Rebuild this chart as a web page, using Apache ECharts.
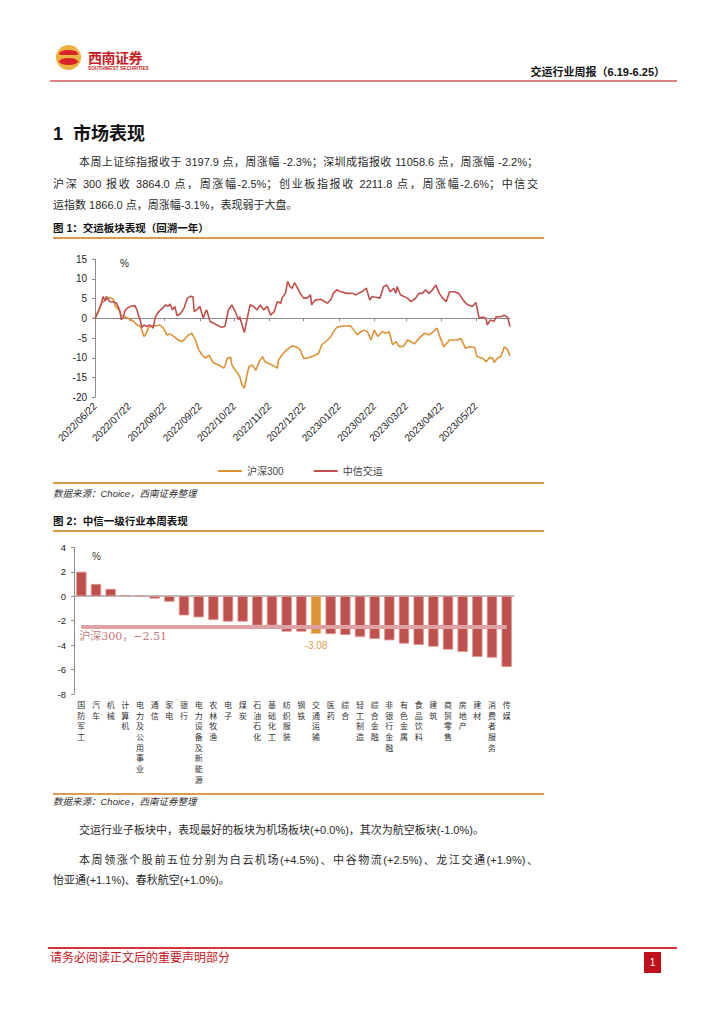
<!DOCTYPE html>
<html><head><meta charset="utf-8">
<script src="https://cdn.jsdelivr.net/npm/echarts/dist/echarts.min.js"></script>
<style>
html,body{margin:0;padding:0;background:#fff;}
body{width:724px;height:1024px;position:relative;overflow:hidden;font-family:"Liberation Sans","Noto Sans CJK SC",sans-serif;color:#222;}
.a{position:absolute;white-space:nowrap;}
.rule{position:absolute;left:53px;width:491px;height:1.5px;background:#d99a4e;}
.txt{font-size:11px;line-height:14px;color:#2a2a2a;}
.just{text-align:justify;text-align-last:justify;}
.src{font-size:9.5px;line-height:12px;font-style:italic;color:#333;}
.ftitle{font-size:10.5px;line-height:14px;font-weight:bold;color:#111;}
</style>
</head><body>
<!-- header -->
<div class="a" style="left:56px;top:45px;width:25px;height:25px;border-radius:50%;background:#eab340;overflow:hidden;">
  <div style="position:absolute;left:3px;top:5px;width:19px;height:7px;border-radius:50%;background:#d8232a;"></div>
  <div style="position:absolute;left:3px;top:13px;width:19px;height:7px;border-radius:50%;background:#d8232a;"></div>
  <div style="position:absolute;left:0px;top:10px;width:25px;height:3px;background:#eab340;"></div>
</div>
<div class="a" style="left:88px;top:50px;font-size:14px;line-height:16px;font-weight:bold;color:#c81d25;letter-spacing:-0.5px;">西南证券</div>
<div class="a" style="left:88px;top:66px;font-size:8px;line-height:8px;font-weight:bold;color:#c81d25;transform:scale(0.6);transform-origin:0 0;">SOUTHWEST SECURITIES</div>
<div class="a" style="right:59px;top:65px;font-size:11px;line-height:14px;font-weight:bold;color:#111;">交运行业周报（6.19-6.25）</div>
<div class="a" style="left:50px;top:80px;width:627px;height:2px;background:#d98585;"></div>

<!-- section -->
<div class="a" style="left:53px;top:122px;font-size:18px;line-height:24px;font-weight:bold;color:#111;">1&nbsp; 市场表现</div>
<div class="a txt just" style="left:79px;top:155px;width:459px;">本周上证综指报收于 3197.9 点，周涨幅 -2.3%；深圳成指报收 11058.6 点，周涨幅 -2.2%；</div>
<div class="a txt just" style="left:53px;top:177px;width:485px;">沪深 300 报收 3864.0 点，周涨幅-2.5%；创业板指报收 2211.8 点，周涨幅-2.6%；中信交</div>
<div class="a txt" style="left:53px;top:198px;">运指数 1866.0 点，周涨幅-3.1%，表现弱于大盘。</div>

<div class="a ftitle" style="left:53px;top:221px;">图 1：交运板块表现（回溯一年）</div>
<div class="rule" style="top:237px;"></div>
<div id="c1" class="a" style="left:40px;top:240px;width:520px;height:240px;"></div>
<div class="rule" style="top:482px;"></div>
<div class="a src" style="left:53px;top:488px;">数据来源：Choice，西南证券整理</div>

<div class="a ftitle" style="left:53px;top:514px;">图 2：中信一级行业本周表现</div>
<div class="rule" style="top:530px;"></div>
<div id="c2" class="a" style="left:40px;top:533px;width:520px;height:258px;"></div>
<div class="rule" style="top:793px;"></div>
<div class="a src" style="left:53px;top:796px;">数据来源：Choice，西南证券整理</div>

<div class="a txt" style="left:79px;top:823px;">交运行业子板块中，表现最好的板块为机场板块(+0.0%)，其次为航空板块(-1.0%)。</div>
<div class="a txt just" style="left:79px;top:853px;width:459px;">本周领涨个股前五位分别为白云机场(+4.5%)、中谷物流(+2.5%)、龙江交通(+1.9%)、</div>
<div class="a txt" style="left:53px;top:873px;">怡亚通(+1.1%)、春秋航空(+1.0%)。</div>

<!-- footer -->
<div class="a" style="left:48px;top:947px;width:629px;height:1.5px;background:#d8353a;"></div>
<div class="a" style="left:50px;top:950px;font-size:12px;line-height:16px;color:#c8161d;">请务必阅读正文后的重要声明部分</div>
<div class="a" style="left:644px;top:952px;width:17px;height:21px;background:#c0101c;color:#fff;font-size:10px;line-height:21px;text-align:center;">1</div>

<script>
// ---------- Chart 1 data (x = days since 2022/06/22, value = cumulative %) ----------
const startDate = [2022, 6, 22];
const totalDays = 365;
const seriesNames = ['沪深300', '中信交运'];
const hs300Days = [0,6,9,13,16,18,21,23,26,29,34,37,40,41,43,45,47,50,54,57,60,63,66,69,73,76,79,82,85,88,91,94,97,100,103,105,110,113,114,116,119,120,123,126,127,129,131,133,135,138,141,144,147,149,152,157,160,161,164,168,173,177,180,183,186,192,196,199,204,207,209,212,216,224,227,230,233,236,239,242,245,248,252,255,258,261,264,267,271,274,277,280,284,289,293,296,300,303,306,311,318,321,325,328,333,335,340,343,346,349,350,353,356,359,362,364];
const hs300Vals = [0,3.8,4.6,5.3,4.8,3.0,2.1,0.8,0.4,0,-0.8,-1.7,-2.1,-3.0,-4.6,-3.8,-2.3,-1.9,-1.9,-1.7,-2.5,-4.2,-4.0,-4.6,-5.5,-5.9,-5.2,-4.2,-3.8,-5.5,-8.0,-9.3,-10.1,-9.3,-11.0,-11.4,-12.1,-12.6,-12.1,-10.1,-9.9,-11.8,-13.1,-14.3,-14.8,-16.9,-17.7,-14.8,-12.2,-11.8,-13.2,-11.0,-9.7,-11.0,-11.4,-12.1,-12.6,-10.5,-9.3,-8.0,-7.0,-7.3,-8.0,-10.1,-10.1,-9.5,-8.9,-6.7,-5.5,-4.6,-3.5,-2.3,-2.0,-1.9,-3.0,-4.2,-3.4,-3.0,-3.4,-5.5,-3.0,-4.6,-3.4,-3.8,-3.4,-6.7,-5.9,-7.2,-7.0,-5.5,-5.9,-6.5,-5.1,-3.8,-4.2,-3.6,-2.5,-5.1,-7.2,-5.5,-5.5,-5.1,-7.6,-7.2,-7.4,-9.7,-10.1,-11.0,-9.9,-10.1,-11.2,-10.1,-9.7,-7.2,-8.0,-9.5];
const citicDays = [0,3,6,7,9,10,13,16,19,22,23,25,26,28,31,35,37,38,40,41,43,45,48,51,53,56,59,62,64,66,68,70,72,75,78,81,84,86,87,89,92,95,97,98,100,101,107,111,114,117,120,123,126,127,129,131,133,136,139,142,145,148,151,154,157,160,163,164,167,169,171,173,175,177,180,183,186,189,190,193,198,204,207,209,212,215,221,226,229,231,234,238,241,243,246,250,253,256,259,262,264,265,268,271,274,277,281,284,287,290,293,296,299,302,305,308,311,315,319,324,327,331,334,337,340,343,344,347,350,352,356,359,362,364];
const citicVals = [0,1.7,4.2,5.5,4.4,5.5,4.2,4.2,3.8,1.7,-0.4,0.4,1.7,2.5,3.0,3.2,2.0,0.8,-0.8,-2.3,-1.7,-2.1,-1.7,-2.5,0.4,1.7,2.5,3.4,3.0,3.6,2.1,3.0,0.6,1.2,2.5,5.1,5.6,5.4,1.7,2.1,3.0,0,1.7,2.1,0,-0.8,-1.7,-2.3,-2.0,2.1,3.4,1.7,-0.4,0.4,-1.7,-3.6,-0.8,3.4,3.0,2.1,3.4,2.1,3.0,0.8,1.6,4.2,3.8,5.1,6.3,9.3,8.0,7.6,9.0,8.0,6.3,5.1,5.1,5.9,3.4,4.6,4.8,3.8,4.8,6.3,7.2,6.8,6.3,6.3,5.9,6.3,6.7,7.6,4.6,5.5,5.3,5.1,8.0,8.4,6.7,7.6,6.3,8.0,5.9,5.5,5.1,4.2,5.0,6.3,6.3,7.2,6.3,7.2,8.4,6.3,5.1,4.2,6.7,6.7,6.3,4.2,3.4,3.0,4.0,0,0.3,0,-1.7,-0.4,-0.8,0.4,0.4,0.8,0.2,-2.1];

// ---------- Chart 2 data ----------
const industries = ['国防军工','汽车','机械','计算机','电力及公用事业','通信','家电','银行','电力设备及新能源','农林牧渔','电子','煤炭','石油石化','基础化工','纺织服装','钢铁','交通运输','医药','综合','轻工制造','综合金融','非银行金融','有色金属','食品饮料','建筑','商贸零售','房地产','建材','消费者服务','传媒'];
const weeklyChange = [2.0,1.0,0.6,0.1,-0.02,-0.2,-0.45,-1.57,-1.73,-1.95,-2.08,-2.08,-2.4,-2.4,-2.9,-2.9,-3.08,-3.1,-3.17,-3.34,-3.5,-3.61,-3.88,-3.99,-4.13,-4.37,-4.56,-4.97,-5.03,-5.79];
const highlight = '交通运输';
const hs300Weekly = -2.51;

const ORANGE = '#dd9236', RED = '#c0504d';
const FONT = '"Liberation Sans","Noto Sans CJK SC",sans-serif';

// calendar-day category axis
const days = [];
for (let i = 0; i < totalDays; i++) {
  const d = new Date(startDate[0], startDate[1]-1, startDate[2] + i);
  const p = n => (n < 10 ? '0' : '') + n;
  days.push(d.getFullYear() + '/' + p(d.getMonth()+1) + '/' + p(d.getDate()));
}
const monthly = (idx, val) => val.slice(-2) === '22';
const pairs = (xs, ys) => xs.map((x, i) => [x, ys[i]]);

const c1 = echarts.init(document.getElementById('c1'), null, {renderer:'svg'});
c1.setOption({
  animation:false,
  textStyle:{fontFamily:FONT},
  grid:{left:55, top:19, width:415, height:138.3, containLabel:false},
  legend:{top:221, left:173, itemWidth:24, itemHeight:2, icon:'rect', itemGap:30,
    textStyle:{fontSize:10, color:'#444', fontFamily:FONT}, data:seriesNames},
  xAxis:[
    {type:'category', data:days, boundaryGap:false, position:'bottom',
     axisLine:{show:false, onZero:false}, axisTick:{show:false},
     axisLabel:{interval:monthly, rotate:45, fontSize:10, color:'#222', margin:7, fontFamily:FONT}},
    {type:'category', data:days, boundaryGap:false, position:'top',
     axisLine:{show:true, onZero:true, lineStyle:{color:'#8c8c8c', width:1}},
     axisTick:{show:true, inside:true, interval:monthly, length:3, lineStyle:{color:'#8c8c8c'}},
     axisLabel:{show:false}}
  ],
  yAxis:{type:'value', min:-20, max:15, interval:5,
    axisLine:{show:true, lineStyle:{color:'#8c8c8c'}},
    axisTick:{show:true, length:3, lineStyle:{color:'#8c8c8c'}},
    splitLine:{show:false},
    axisLabel:{fontSize:10, color:'#222', margin:8, fontFamily:FONT}},
  graphic:[{type:'text', left:80, top:18, style:{text:'%', fontSize:10, fill:'#222', fontFamily:FONT}}],
  series:[
    {name:seriesNames[0], type:'line', xAxisIndex:0, data:pairs(hs300Days, hs300Vals), showSymbol:false,
     lineStyle:{color:ORANGE, width:1.6}, itemStyle:{color:ORANGE}, z:2},
    {name:seriesNames[1], type:'line', xAxisIndex:0, data:pairs(citicDays, citicVals), showSymbol:false,
     lineStyle:{color:RED, width:1.6}, itemStyle:{color:RED}, z:3}
  ]
});

const c2 = echarts.init(document.getElementById('c2'), null, {renderer:'svg'});
c2.setOption({
  animation:false,
  textStyle:{fontFamily:FONT},
  grid:{left:34, top:14.3, width:440, height:146.7, containLabel:false},
  xAxis:[
    {type:'category', data:industries, position:'bottom',
     axisLine:{show:false, onZero:false}, axisTick:{show:false},
     axisLabel:{interval:0, fontSize:8, lineHeight:10.7, color:'#333', margin:5,
       formatter:v => v.split('').join('\n'), fontFamily:'"Noto Sans CJK SC",sans-serif'}},
    {type:'category', data:industries, position:'top',
     axisLine:{show:true, onZero:true, lineStyle:{color:'#a6a6a6', width:1.5}},
     axisTick:{show:false}, axisLabel:{show:false}}
  ],
  yAxis:{type:'value', min:-8, max:4, interval:2,
    axisLine:{show:true, lineStyle:{color:'#8c8c8c'}},
    axisTick:{show:true, length:3, lineStyle:{color:'#8c8c8c'}},
    splitLine:{show:false},
    axisLabel:{fontSize:9.5, color:'#222', margin:8, fontFamily:FONT}},
  graphic:[{type:'text', left:52, top:18, style:{text:'%', fontSize:10, fill:'#333', fontFamily:FONT}}],
  series:[{
    type:'bar', xAxisIndex:0, barWidth:10.3,
    data:weeklyChange.map((v, i) => {
      const hl = industries[i] === highlight;
      return {value:v,
        itemStyle:{color: hl ? ORANGE : RED, borderColor: hl ? '#eab878' : '#dc9593', borderWidth:0.8},
        label: hl ? {show:true, position:'bottom', distance:7, formatter:String(v.toFixed(2)),
          color:'#e0a04e', fontSize:10, fontFamily:FONT} : {show:false}};
    }),
    markLine:{silent:true, symbol:'none', animation:false,
      lineStyle:{color:'#dda3a4', width:4, type:'solid'},
      label:{show:true, position:'insideStartBottom', distance:[-2, 4],
        formatter:'沪深300，−' + Math.abs(hs300Weekly).toFixed(2), color:'#c57a7a', fontSize:11,
        fontFamily:'"DejaVu Serif","Noto Sans CJK SC",serif'},
      data:[[{coord:[0, hs300Weekly]}, {coord:[industries.length-1, hs300Weekly]}]]}
  }]
});
</script>
</body></html>
